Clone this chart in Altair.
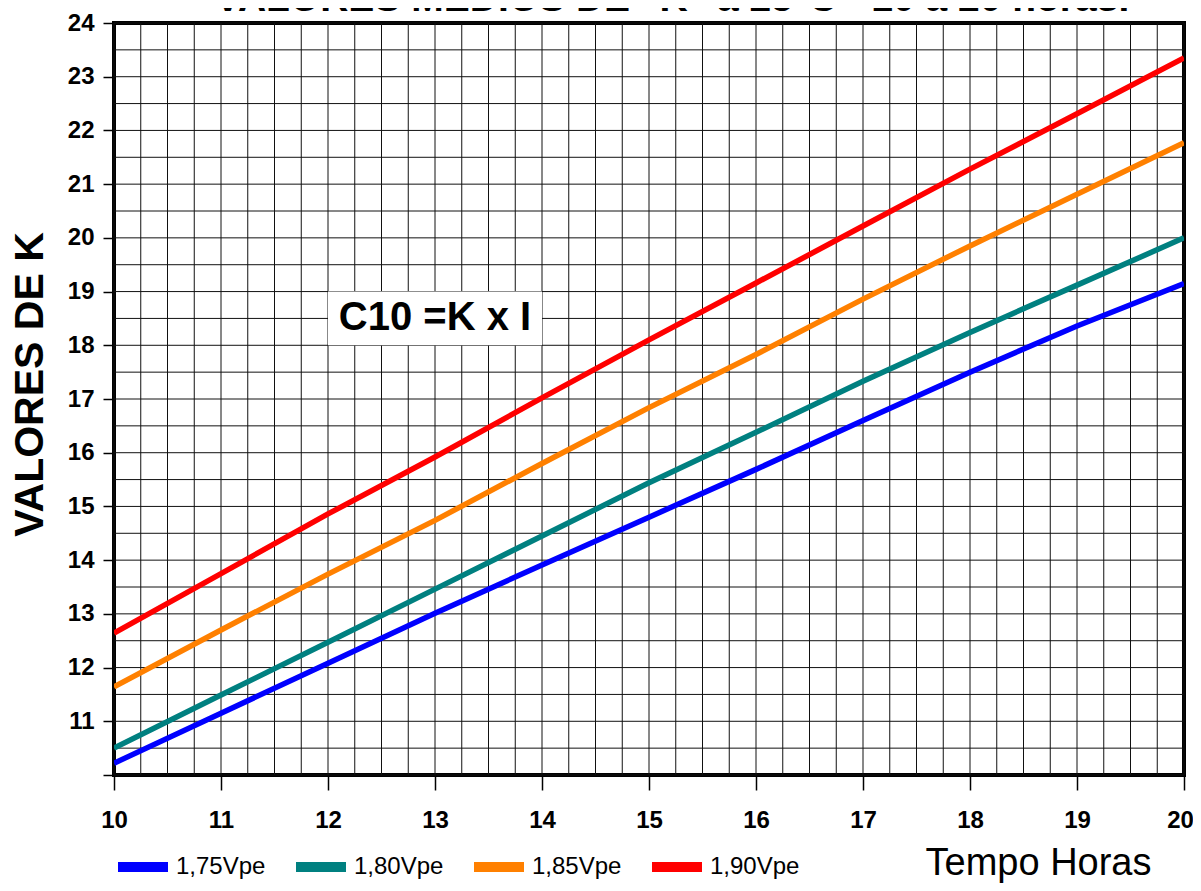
import altair as alt
import pandas as pd

hours = [10, 11, 12, 13, 14, 15, 16, 17, 18, 19, 20]
series_names = ["1,75Vpe", "1,80Vpe", "1,85Vpe", "1,90Vpe"]
series_colors = ["#0000FF", "#008080", "#FF8000", "#FF0000"]
k_175 = [10.22, 11.15, 12.08, 13.01, 13.91, 14.80, 15.69, 16.60, 17.50, 18.36, 19.15]
k_180 = [10.50, 11.49, 12.47, 13.46, 14.45, 15.44, 16.38, 17.33, 18.24, 19.12, 20.00]
k_185 = [11.64, 12.70, 13.74, 14.74, 15.80, 16.84, 17.83, 18.86, 19.85, 20.81, 21.77]
k_190 = [12.64, 13.75, 14.86, 15.92, 17.02, 18.10, 19.16, 20.22, 21.28, 22.31, 23.35]

title_text = 'VALORES MEDIOS DE "K" a 25°C - 10 a 20 horas.'
formula_text = "C10 =K x I"
box_x = [12]
box_x2 = [14]
box_y = [18]
box_y2 = [19]
formula_x = [13.0]
formula_y = [18.5]

x_tick_vals = [10, 11, 12, 13, 14, 15, 16, 17, 18, 19, 20]
y_tick_vals = [10, 11, 12, 13, 14, 15, 16, 17, 18, 19, 20, 21, 22, 23, 24]
x_grid_vals = [10 + 0.25 * i for i in range(41)]
y_grid_vals = [10 + 0.5 * i for i in range(29)]

rows = []
for name, vals in zip(series_names, [k_175, k_180, k_185, k_190]):
    for h, v in zip(hours, vals):
        rows.append({"serie": name, "hora": h, "k": v})
df = pd.DataFrame(rows)

FONT = "Liberation Sans"

xscale = alt.Scale(domain=[10, 20], nice=False, zero=False)
yscale = alt.Scale(domain=[10, 24], nice=False, zero=False)

x_axis = alt.Axis(
    values=x_tick_vals,
    format="d",
    grid=False,
    domain=False,
    tickColor="black",
    tickSize=15,
    tickWidth=1.5,
    labelFont=FONT,
    labelFontSize=24,
    labelFontWeight="bold",
    labelColor="black",
    labelPadding=18,
    labelOffset={"condition": {"test": "datum.value === 20", "value": -4}, "value": 0},
    labelFlush=False,
    labelOverlap=False,
    labelBound=False,
    title="Tempo Horas",
    titleFont=FONT,
    titleFontSize=38,
    titleFontWeight="normal",
    titleColor="black",
    titleX=924,
    titleY=99,
    titleAlign="center",
    titleBaseline="alphabetic",
)

y_axis = alt.Axis(
    values=y_tick_vals,
    labelExpr="datum.value > 10 ? datum.label : ''",
    format="d",
    grid=False,
    domain=False,
    tickColor="black",
    tickSize=11,
    tickWidth=1.5,
    labelFont=FONT,
    labelFontSize=24,
    labelFontWeight="bold",
    labelColor="black",
    labelPadding=9,
    labelFlush=False,
    labelOverlap=False,
    labelBound=False,
    title="VALORES DE K",
    titleFont=FONT,
    titleFontSize=41,
    titleFontWeight="bold",
    titleColor="black",
    titleAngle=-90,
    titleX=-84,
    titleY=361,
    titleAlign="center",
    titleBaseline="middle",
)

X = lambda f: alt.X(f, scale=xscale, axis=x_axis)
Y = lambda f: alt.Y(f, scale=yscale, axis=y_axis)

xg = alt.Chart(pd.DataFrame({"gx": x_grid_vals})).mark_rule(color="#111111", strokeWidth=1).encode(
    x=X("gx:Q")
)
yg = alt.Chart(pd.DataFrame({"gy": y_grid_vals})).mark_rule(color="#111111", strokeWidth=1).encode(
    y=Y("gy:Q")
)

lines = alt.Chart(df).mark_line(strokeWidth=5.5, strokeCap="butt", clip=True).encode(
    x=X("hora:Q"),
    y=Y("k:Q"),
    color=alt.Color(
        "serie:N",
        scale=alt.Scale(domain=series_names, range=series_colors),
        sort=series_names,
        legend=alt.Legend(
            orient="none",
            legendX=-1,
            legendY=814,
            direction="horizontal",
            columns=4,
            title=None,
            symbolType="stroke",
            symbolSize=2500,
            symbolStrokeWidth=10,
            labelFont=FONT,
            labelFontSize=24,
            labelColor="black",
            labelOffset=3,
            columnPadding=10,
            padding=0,
        ),
    ),
)

box_df = pd.DataFrame({"x": box_x, "x2": box_x2, "y": box_y, "y2": box_y2})
box = alt.Chart(box_df).mark_rect(fill="white", strokeWidth=0).encode(
    x=X("x:Q"),
    x2="x2:Q",
    y=Y("y:Q"),
    y2="y2:Q",
)

ftext_df = pd.DataFrame({"x": formula_x, "y": formula_y, "t": [formula_text]})
ftext = alt.Chart(ftext_df).mark_text(
    font=FONT, fontSize=40, fontWeight="bold", color="black", align="center", baseline="middle"
).encode(
    x=X("x:Q"),
    y=Y("y:Q"),
    text="t:N",
)

title_df = pd.DataFrame({"t": [title_text]})
title = alt.Chart(title_df).mark_text(
    font=FONT, fontSize=39, fontWeight="bold", color="black", align="center", baseline="alphabetic"
).encode(
    x=alt.value(558),
    y=alt.value(-12),
    text="t:N",
)

chart = alt.layer(xg, yg, box, lines, ftext, title).properties(
    width=1070,
    height=752,
    autosize=alt.AutoSizeParams(type="none"),
    padding={"left": 106, "top": 15, "right": 9, "bottom": 108},
    background="white",
).configure_view(
    stroke="black",
    strokeWidth=4,
)

chart.save("out.html", embed_options={"renderer": "svg", "actions": False})
